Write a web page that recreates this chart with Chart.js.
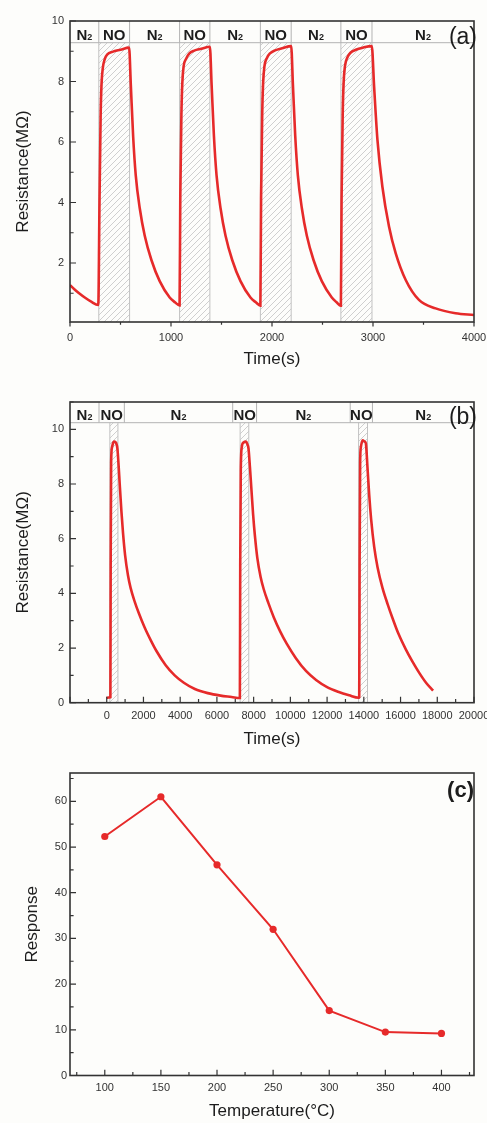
<!DOCTYPE html>
<html>
<head>
<meta charset="utf-8">
<script src="https://cdn.jsdelivr.net/npm/chart.js@4.4.1/dist/chart.umd.min.js"></script>
<style>
  html, body { margin: 0; padding: 0; background: #fdfdfb; }
  body { width: 487px; height: 1123px; position: relative; overflow: hidden; }
  .panel { position: absolute; left: 0; width: 487px; }
  .panel canvas { display: block; }
</style>
</head>
<body>
<div class="panel" style="top:0;height:370px"><canvas id="chartA"></canvas></div>
<div class="panel" style="top:380px;height:370px"><canvas id="chartB"></canvas></div>
<div class="panel" style="top:760px;height:363px"><canvas id="chartC"></canvas></div>
<script>
// ---- (a) four short NO pulses ----
const timeA = [
  0, 40, 90, 150, 210, 280,
  292, 303, 312, 325, 345, 370, 420, 500, 585,
  602, 625, 651, 691, 740, 806, 888, 987, 1040, 1085,
  1092, 1103, 1112, 1125, 1150, 1180, 1230, 1300, 1385,
  1402, 1425, 1451, 1491, 1540, 1606, 1688, 1787, 1840, 1885,
  1892, 1903, 1912, 1925, 1950, 1980, 2030, 2100, 2190,
  2207, 2230, 2256, 2296, 2345, 2411, 2493, 2592, 2640, 2682,
  2689, 2700, 2709, 2722, 2747, 2777, 2830, 2900, 2988,
  3011, 3044, 3093, 3159, 3225, 3324, 3455, 3620, 3817, 4000
];
const resA = [
  1.27, 1.14, 1.0, 0.85, 0.72, 0.61,
  4.0, 6.8, 7.9, 8.45, 8.75, 8.9, 8.98, 9.05, 9.12,
  7.9, 6.2, 4.9, 3.8, 2.9, 2.1, 1.4, 0.86, 0.7, 0.6,
  4.2, 6.9, 7.95, 8.5, 8.75, 8.92, 9.02, 9.08, 9.15,
  7.9, 6.2, 4.9, 3.8, 2.9, 2.1, 1.4, 0.86, 0.7, 0.59,
  4.2, 6.9, 7.95, 8.5, 8.78, 8.93, 9.03, 9.1, 9.17,
  7.9, 6.2, 4.9, 3.8, 2.9, 2.1, 1.4, 0.86, 0.7, 0.59,
  4.2, 6.9, 7.95, 8.5, 8.8, 8.95, 9.05, 9.12, 9.17,
  7.83, 6.07, 4.52, 3.2, 2.32, 1.44, 0.78, 0.5, 0.34, 0.28
];
const noBandsA = [[285, 590], [1085, 1385], [1885, 2190], [2682, 2990]];
const headerEdgesA = [0, 285, 590, 1085, 1385, 1885, 2190, 2682, 2990, 4000];
const headerLabelsA = ['N₂', 'NO', 'N₂', 'NO', 'N₂', 'NO', 'N₂', 'NO', 'N₂'];
const xTicksA = [0, 1000, 2000, 3000, 4000];
const yTicksA = [2, 4, 6, 8, 10];

// ---- (b) three long NO pulses ----
const timeB = [
  0, 100, 200,
  215, 240, 290, 360, 435, 520, 580,
  650, 707, 800, 888, 1000, 1159, 1300, 1522, 1750, 2065, 2400, 2700, 3200, 3700, 4200, 4800, 5500, 6200, 6800, 7250,
  7270, 7300, 7355, 7450, 7590, 7660, 7720,
  7800, 7870, 7970, 8070, 8200, 8380, 8550, 8800, 9100, 9450, 9800, 10300, 10850, 11400, 12000, 12600, 13200, 13720,
  13750, 13770, 13800, 13840, 13933, 14050, 14112,
  14200, 14293, 14400, 14565, 14750, 15016, 15300, 15560, 15900, 16286, 16650, 17010, 17400, 17772
];
const resB = [
  0.18, 0.19, 0.2,
  5.0, 8.8, 9.35, 9.52, 9.55, 9.48, 9.3,
  8.65, 8.0, 7.0, 6.2, 5.4, 4.65, 4.2, 3.7, 3.27, 2.75, 2.28, 1.9, 1.38, 1.0, 0.73, 0.5, 0.35, 0.26, 0.21, 0.17,
  5.0, 8.5, 9.35, 9.52, 9.55, 9.45, 9.3,
  8.6, 7.9, 6.9, 6.1, 5.3, 4.6, 4.15, 3.65, 3.12, 2.6, 2.16, 1.63, 1.16, 0.83, 0.57, 0.4, 0.27, 0.18,
  0.2, 5.0, 8.8, 9.35, 9.6, 9.55, 9.48,
  8.6, 7.6, 6.7, 5.7, 4.95, 4.2, 3.6, 3.1, 2.5, 1.95, 1.5, 1.1, 0.72, 0.44
];
const noBandsB = [[170, 610], [7265, 7735], [13715, 14200]];
const headerEdgesB = [-2000, -420, 960, 6860, 8160, 13260, 14470, 20000];
const headerLabelsB = ['N₂', 'NO', 'N₂', 'NO', 'N₂', 'NO', 'N₂'];
const xTicksB = [0, 2000, 4000, 6000, 8000, 10000, 12000, 14000, 16000, 18000, 20000];
const yTicksB = [0, 2, 4, 6, 8, 10];

// ---- (c) response vs temperature ----
const temps = [100, 150, 200, 250, 300, 350, 400];
const response = [52.3, 61.0, 46.1, 32.0, 14.2, 9.5, 9.2];
const xTicksC = [100, 150, 200, 250, 300, 350, 400];
const yTicksC = [0, 10, 20, 30, 40, 50, 60];

const FONT = "'Liberation Sans', Arial, sans-serif";
const RED = '#e62a2a';
const INK = '#1c1c1c';

// diagonal hatch used for the NO exposure windows
function makeHatch() {
  const c = document.createElement('canvas');
  c.width = 6; c.height = 6;
  const g = c.getContext('2d');
  g.strokeStyle = '#c9c9c9';
  g.lineWidth = 0.9;
  g.beginPath();
  g.moveTo(0, 6); g.lineTo(6, 0);
  g.moveTo(-1, 1); g.lineTo(1, -1);
  g.moveTo(5, 7); g.lineTo(7, 5);
  g.stroke();
  return c;
}

const gasPlugin = {
  id: 'gas',
  beforeDatasetsDraw(chart, args, opts) {
    const { ctx, chartArea: a, scales: { x } } = chart;
    const top = a.top + opts.headerH;
    ctx.save();
    ctx.fillStyle = ctx.createPattern(makeHatch(), 'repeat');
    ctx.strokeStyle = '#c2c2c2';
    ctx.lineWidth = 1;
    opts.bands.forEach(([s, e]) => {
      const x0 = x.getPixelForValue(s), x1 = x.getPixelForValue(e);
      ctx.fillRect(x0, top, x1 - x0, a.bottom - top);
      ctx.beginPath();
      ctx.moveTo(x0, top); ctx.lineTo(x0, a.bottom);
      ctx.moveTo(x1, top); ctx.lineTo(x1, a.bottom);
      ctx.stroke();
    });
    ctx.restore();
  },
  afterDatasetsDraw(chart, args, opts) {
    const { ctx, chartArea: a, scales: { x } } = chart;
    const hb = a.top + opts.headerH;
    ctx.save();
    ctx.strokeStyle = '#b3b3b3';
    ctx.lineWidth = 1;
    ctx.beginPath();
    ctx.moveTo(a.left, hb); ctx.lineTo(a.right, hb);
    opts.edges.slice(1, -1).forEach(v => {
      const px = x.getPixelForValue(v);
      ctx.moveTo(px, a.top); ctx.lineTo(px, hb);
    });
    ctx.stroke();
    ctx.fillStyle = INK;
    ctx.textBaseline = 'alphabetic';
    opts.labels.forEach((lab, i) => {
      const cx = (x.getPixelForValue(opts.edges[i]) + x.getPixelForValue(opts.edges[i + 1])) / 2;
      const base = hb - 3;
      if (lab.endsWith('₂')) {
        ctx.font = 'bold 15px ' + FONT;
        const w1 = ctx.measureText('N').width;
        ctx.font = 'bold 9px ' + FONT;
        const w2 = ctx.measureText('2').width;
        const x0 = cx - (w1 + w2) / 2;
        ctx.textAlign = 'left';
        ctx.font = 'bold 15px ' + FONT;
        ctx.fillText('N', x0, base);
        ctx.font = 'bold 9px ' + FONT;
        ctx.fillText('2', x0 + w1, base);
      } else {
        ctx.font = 'bold 15px ' + FONT;
        ctx.textAlign = 'center';
        ctx.fillText(lab, cx, base);
      }
    });
    ctx.restore();
  }
};

// plot frame, tick marks (in/out as in the figure) and panel tag
const framePlugin = {
  id: 'frame',
  afterDraw(chart, args, opts) {
    const { ctx, chartArea: a, scales } = chart;
    ctx.save();
    ctx.strokeStyle = '#333';
    ctx.lineWidth = 1.2;
    ctx.beginPath();
    const xs = scales.x, ys = scales.y, tx = opts.x, ty = opts.y;
    const xTick = (v, len) => {
      const p = xs.getPixelForValue(v);
      ctx.moveTo(p, a.bottom);
      ctx.lineTo(p, tx.dir === 'out' ? a.bottom + len : a.bottom - len);
    };
    const yTick = (v, len) => {
      const p = ys.getPixelForValue(v);
      ctx.moveTo(a.left, p);
      ctx.lineTo(ty.dir === 'out' ? a.left - len : a.left + len, p);
    };
    tx.major.forEach(v => xTick(v, tx.len));
    for (let v = tx.minor[0]; v <= xs.max + 1e-9; v += tx.minor[1]) xTick(v, tx.len * 0.6);
    ty.major.forEach(v => yTick(v, ty.len));
    for (let v = ty.minor[0]; v <= ys.max + 1e-9; v += ty.minor[1]) yTick(v, ty.len * 0.6);
    ctx.stroke();
    ctx.lineWidth = 1.6;
    ctx.strokeRect(a.left, a.top, a.right - a.left, a.bottom - a.top);
    ctx.fillStyle = INK;
    ctx.font = opts.tagFont;
    ctx.textAlign = 'right';
    ctx.textBaseline = 'middle';
    ctx.fillText(opts.tag, opts.tagX, opts.tagY);
    ctx.restore();
  }
};

function buildOptions(cfg) {
  return {
    responsive: true,
    maintainAspectRatio: false,
    animation: false,
    layout: { padding: { top: cfg.top, right: 13, left: 0, bottom: 0 } },
    plugins: {
      legend: { display: false },
      tooltip: { enabled: false },
      gas: cfg.gas,
      frame: cfg.frame
    },
    scales: {
      x: {
        type: 'linear',
        min: cfg.xMin,
        max: cfg.xMax,
        grid: { display: false, drawTicks: false },
        border: { display: false },
        afterBuildTicks: s => { s.ticks = cfg.xTicks.map(v => ({ value: v })); },
        afterFit: s => { s.height = cfg.height - cfg.bottom; s.paddingLeft = 0; s.paddingRight = 0; },
        ticks: {
          color: '#333', padding: cfg.xPad, maxRotation: 0, autoSkip: false,
          font: { family: FONT, size: 11 },
          callback: v => String(v)
        },
        title: {
          display: true, text: cfg.xTitle, color: INK,
          font: { family: FONT, size: 17 },
          padding: { top: 0, bottom: cfg.xTitlePad }
        }
      },
      y: {
        type: 'linear',
        min: cfg.yMin,
        max: cfg.yMax,
        grid: { display: false, drawTicks: false },
        border: { display: false },
        afterBuildTicks: s => { s.ticks = cfg.yTicks.map(v => ({ value: v })); },
        afterFit: s => { s.width = 70; s.paddingTop = 0; s.paddingBottom = 0; },
        ticks: {
          color: '#333', padding: cfg.yPad, autoSkip: false,
          font: { family: FONT, size: 11 },
          callback: v => String(v)
        },
        title: {
          display: true, text: cfg.yTitle, color: INK,
          font: { family: FONT, size: 17 },
          padding: { top: cfg.yTitlePad, bottom: 0 }
        }
      }
    }
  };
}

const pts = (xs, ys) => xs.map((v, i) => ({ x: v, y: ys[i] }));

new Chart(document.getElementById('chartA'), {
  type: 'line',
  data: {
    datasets: [{
      data: pts(timeA, resA),
      borderColor: RED, borderWidth: 2.6, pointRadius: 0,
      cubicInterpolationMode: 'monotone', fill: false
    }]
  },
  options: buildOptions({
    top: 21, height: 370, bottom: 322,
    xMin: 0, xMax: 4000, yMin: 0.05, yMax: 10,
    xTicks: xTicksA, yTicks: yTicksA,
    xPad: 9, yPad: 6, xTitlePad: 0, yTitlePad: 13,
    xTitle: 'Time(s)', yTitle: 'Resistance(MΩ)',
    gas: { bands: noBandsA, edges: headerEdgesA, labels: headerLabelsA, headerH: 21.7 },
    frame: {
      x: { major: xTicksA, minor: [500, 1000], len: 4.5, dir: 'out' },
      y: { major: yTicksA, minor: [1, 2], len: 6, dir: 'in' },
      tag: '(a)', tagFont: '23px ' + FONT, tagX: 477, tagY: 38
    }
  }),
  plugins: [gasPlugin, framePlugin]
});

new Chart(document.getElementById('chartB'), {
  type: 'line',
  data: {
    datasets: [{
      data: pts(timeB, resB),
      borderColor: RED, borderWidth: 2.6, pointRadius: 0,
      cubicInterpolationMode: 'monotone', fill: false
    }]
  },
  options: buildOptions({
    top: 22, height: 370, bottom: 322.7,
    xMin: -2000, xMax: 20000, yMin: 0, yMax: 11,
    xTicks: xTicksB, yTicks: yTicksB,
    xPad: 7, yPad: 6, xTitlePad: 0, yTitlePad: 13,
    xTitle: 'Time(s)', yTitle: 'Resistance(MΩ)',
    gas: { bands: noBandsB, edges: headerEdgesB, labels: headerLabelsB, headerH: 20.7 },
    frame: {
      x: { major: [-2000].concat(xTicksB), minor: [-1000, 2000], len: 6, dir: 'in' },
      y: { major: yTicksB, minor: [1, 2], len: 6, dir: 'in' },
      tag: '(b)', tagFont: '23px ' + FONT, tagX: 477, tagY: 37.5
    }
  }),
  plugins: [gasPlugin, framePlugin]
});

new Chart(document.getElementById('chartC'), {
  type: 'line',
  data: {
    datasets: [{
      data: pts(temps, response),
      borderColor: RED, backgroundColor: RED, borderWidth: 2,
      pointRadius: 3.6, pointBorderWidth: 0, tension: 0, fill: false
    }]
  },
  options: buildOptions({
    top: 13, height: 363, bottom: 315.5,
    xMin: 69, xMax: 429, yMin: 0, yMax: 66.2,
    xTicks: xTicksC, yTicks: yTicksC,
    xPad: 6, yPad: 3, xTitlePad: 1, yTitlePad: 22,
    xTitle: 'Temperature(°C)', yTitle: 'Response',
    gas: false,
    frame: {
      x: { major: xTicksC, minor: [75, 50], len: 5.7, dir: 'in' },
      y: { major: yTicksC, minor: [5, 10], len: 6, dir: 'in' },
      tag: '(c)', tagFont: 'bold 22px ' + FONT, tagX: 474, tagY: 31
    }
  }),
  plugins: [gasPlugin, framePlugin]
});
</script>
</body>
</html>
